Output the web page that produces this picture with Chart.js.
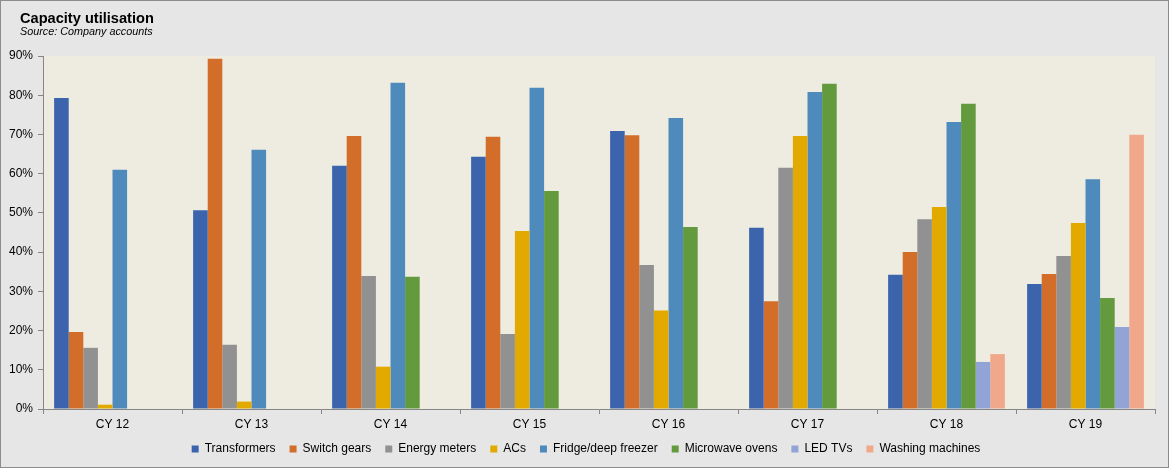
<!DOCTYPE html>
<html>
<head>
<meta charset="utf-8">
<script src="https://cdn.jsdelivr.net/npm/chart.js@4/dist/chart.umd.min.js"></script>
<style>
  html, body { margin: 0; padding: 0; background: #e6e6e6; }
  #wrap { width: 1169px; height: 468px; position: relative; }
</style>
</head>
<body>
<div id="wrap"><canvas id="myChart" width="1169" height="468"></canvas></div>
<script>
var years = ["CY 12", "CY 13", "CY 14", "CY 15", "CY 16", "CY 17", "CY 18", "CY 19"];
var transformers = [79.3, 50.7, 62.0, 64.3, 70.9, 46.2, 34.2, 31.9];
var switchGears = [19.6, 89.3, 69.6, 69.4, 69.8, 27.5, 40.0, 34.4];
var energyMeters = [15.6, 16.4, 33.9, 19.1, 36.7, 61.5, 48.4, 39.0];
var acs = [1.1, 1.9, 10.8, 45.4, 25.1, 69.6, 51.5, 47.4];
var fridges = [61.0, 66.1, 83.2, 81.9, 74.2, 80.8, 73.2, 58.6];
var microwaves = [null, null, 33.7, 55.6, 46.4, 82.9, 77.8, 28.3];
var ledTvs = [null, null, null, null, null, null, 12.0, 20.9];
var washingMachines = [null, null, null, null, null, null, 14.0, 69.9];
var yTicks = [0, 10, 20, 30, 40, 50, 60, 70, 80, 90];

// backgrounds, title texts and outer frame
var bgPlugin = {
    id: 'bg',
    beforeDraw: function (chart) {
        var c = chart.ctx, a = chart.chartArea;
        c.save();
        c.fillStyle = '#e6e6e6';
        c.fillRect(0, 0, chart.width, chart.height);
        c.fillStyle = '#eeece1';
        c.fillRect(a.left, a.top, a.right - a.left, a.bottom - a.top);
        c.restore();
    },
    afterDraw: function (chart) {
        var c = chart.ctx;
        c.save();
        c.fillStyle = '#000';
        c.textAlign = 'left';
        c.textBaseline = 'alphabetic';
        c.font = 'bold 14.6px "Liberation Sans"';
        c.fillText('Capacity utilisation', 20, 23);
        c.font = 'italic 10.8px "Liberation Sans"';
        c.fillText('Source: Company accounts', 20, 35);
        c.strokeStyle = '#8c8c8c';
        c.lineWidth = 1;
        c.strokeRect(0.5, 0.5, chart.width - 1, chart.height - 1);
        c.restore();
    }
};

// legend box a bit shorter than Chart.js makes it, and centred on the plot
var legendFit = {
    id: 'legendFit',
    beforeUpdate: function (chart) {
        if (!chart.legend || chart.legend._fitWrapped) return;
        var fit = chart.legend.fit;
        chart.legend.fit = function () {
            fit.call(this);
            this.height = 39;
        };
        chart.legend._fitWrapped = true;
    },
    afterLayout: function (chart) {
        chart.legend.left += 6;
        chart.legend.right += 6;
    }
};

function ds(label, data, color) {
    return { label: label, data: data, backgroundColor: color, borderWidth: 0 };
}

var ctx = document.getElementById('myChart').getContext('2d');
var myChart = new Chart(ctx, {
    type: 'bar',
    data: {
        labels: years,
        datasets: [
            ds('Transformers', transformers, '#3b64ad'),
            ds('Switch gears', switchGears, '#d36e2a'),
            ds('Energy meters', energyMeters, '#919191'),
            ds('ACs', acs, '#e2aa00'),
            ds('Fridge/deep freezer', fridges, '#4f8abd'),
            ds('Microwave ovens', microwaves, '#629a3d'),
            ds('LED TVs', ledTvs, '#91a4d5'),
            ds('Washing machines', washingMachines, '#f1a88a')
        ]
    },
    options: {
        responsive: false,
        animation: false,
        datasets: { bar: { categoryPercentage: 0.84, barPercentage: 1.0 } },
        layout: { padding: { left: 5, right: 14, top: 56, bottom: 0 } },
        plugins: {
            title: { display: false },
            legend: {
                position: 'bottom',
                labels: {
                    boxWidth: 7,
                    boxHeight: 7,
                    padding: 14,
                    color: '#000',
                    font: { family: 'Liberation Sans', size: 12 }
                }
            },
            tooltip: { enabled: false }
        },
        scales: {
            x: {
                afterFit: function (scale) { scale.height = 20; },
                grid: { display: true, drawOnChartArea: false, tickLength: 5, color: '#868686', offset: true },
                border: { color: '#868686' },
                ticks: { color: '#000', padding: 3, font: { family: 'Liberation Sans', size: 12 } }
            },
            y: {
                min: 0,
                max: 90,
                afterFit: function (scale) { scale.width = 38; },
                afterBuildTicks: function (scale) {
                    scale.ticks = yTicks.map(function (v) { return { value: v }; });
                },
                grid: { display: true, drawOnChartArea: false, tickLength: 5, color: '#868686' },
                border: { color: '#868686' },
                ticks: {
                    color: '#000',
                    padding: 5,
                    font: { family: 'Liberation Sans', size: 12 },
                    callback: function (v) { return v + '%'; }
                }
            }
        }
    },
    plugins: [bgPlugin, legendFit]
});
</script>
</body>
</html>
